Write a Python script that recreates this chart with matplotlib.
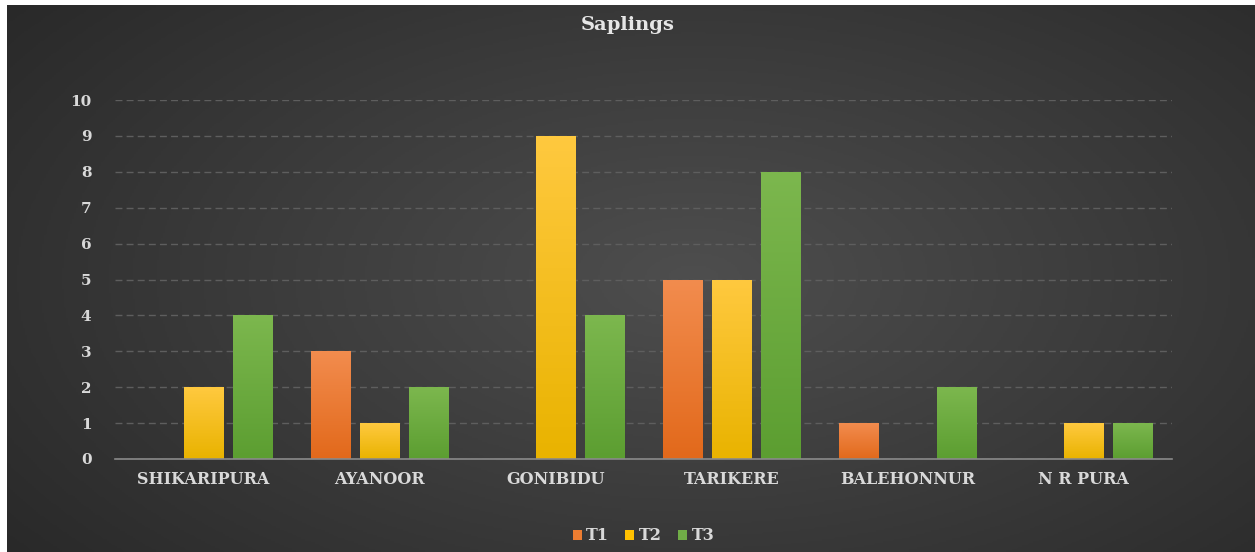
import numpy as np
import matplotlib.pyplot as plt
import matplotlib.colors as mcolors

# chart data
districts = ["SHIKARIPURA", "AYANOOR", "GONIBIDU", "TARIKERE", "BALEHONNUR", "N R PURA"]
t1 = [0, 3, 0, 5, 1, 0]
t2 = [2, 1, 9, 5, 0, 1]
t3 = [4, 2, 4, 8, 2, 1]
series = {"T1": t1, "T2": t2, "T3": t3}

# gradient colours (top, bottom) per series
grads = {
    "T1": ("#f28c4e", "#e2691b"),
    "T2": ("#ffc93f", "#e9b300"),
    "T3": ("#7cb74e", "#5c9e31"),
}
solid = {"T1": "#ed7d31", "T2": "#ffc000", "T3": "#70ad47"}

plt.rcParams['font.family'] = ['DejaVu Serif']
plt.rcParams['font.weight'] = 'bold'

fig = plt.figure(figsize=(12.55, 5.52), dpi=100)
fig.patch.set_facecolor("white")

# dark radial background, leaves thin white strip at top and left
bg = fig.add_axes([7 / 1255, 0, 1 - 7 / 1255, 1 - 5 / 552])
bg.set_axis_off()
yy, xx = np.mgrid[0:1:300j, 0:1:600j]
r = np.sqrt(((xx - 0.55) / 0.75) ** 2 + ((yy - 0.5) / 0.9) ** 2)
r = np.clip(r, 0, 1)
bg_cmap = mcolors.LinearSegmentedColormap.from_list("bg", ["#4e4e4e", "#262626"])
bg.imshow(r, cmap=bg_cmap, aspect="auto", extent=[0, 1, 0, 1], vmin=0, vmax=1)
bg.set_xlim(0, 1)
bg.set_ylim(0, 1)

ax = fig.add_axes([115 / 1255, 1 - 459 / 552, (1172 - 115) / 1255, (459 - 100) / 552])
ax.patch.set_alpha(0)

x = np.arange(len(districts))
step = 0.278
width = 0.222
grad_img = np.linspace(1, 0, 100).reshape(-1, 1)
for i, (name, vals) in enumerate(series.items()):
    bars = ax.bar(x + (i - 1) * step, vals, width, color=solid[name], label=name, zorder=3)
    cm = mcolors.LinearSegmentedColormap.from_list(name, [grads[name][1], grads[name][0]])
    for b in bars:
        if b.get_height() <= 0:
            continue
        x0, y0 = b.get_x(), b.get_y()
        im = ax.imshow(grad_img, cmap=cm, aspect="auto", zorder=4,
                       extent=[x0, x0 + b.get_width(), y0, y0 + b.get_height()])
        im.set_clip_path(b)

ax.set_xlim(-0.5, len(districts) - 0.5)
ax.set_ylim(0, 10)
ax.set_yticks(range(0, 11))
ax.set_xticks(x)
ax.set_xticklabels(districts, fontsize=11.5)

ax.grid(axis="y", color="#5e5e5e", linestyle=(0, (5, 3)), linewidth=1, zorder=0)
for s in ["top", "right", "left"]:
    ax.spines[s].set_visible(False)
ax.spines["bottom"].set_color("#8a8a8a")
ax.spines["bottom"].set_linewidth(1.2)
ax.spines["bottom"].set_zorder(5)
ax.tick_params(axis="both", length=0, colors="#d9d9d9")
ax.tick_params(axis="y", pad=17, labelsize=11)
ax.tick_params(axis="x", pad=9)

fig.text(0.5, 1 - 25 / 552, "Saplings", ha="center", va="center",
         color="#e6e6e6", fontsize=14, fontweight="bold")

leg = ax.legend(loc="center", bbox_to_anchor=(0.5, (459 - 536) / (459 - 100)), ncol=3,
                frameon=False, fontsize=11.5, handlelength=0.55, handleheight=0.55,
                handletextpad=0.3, columnspacing=1.0)
for t in leg.get_texts():
    t.set_color("#d9d9d9")

fig.savefig("out.png", dpi=100, facecolor=fig.get_facecolor())
